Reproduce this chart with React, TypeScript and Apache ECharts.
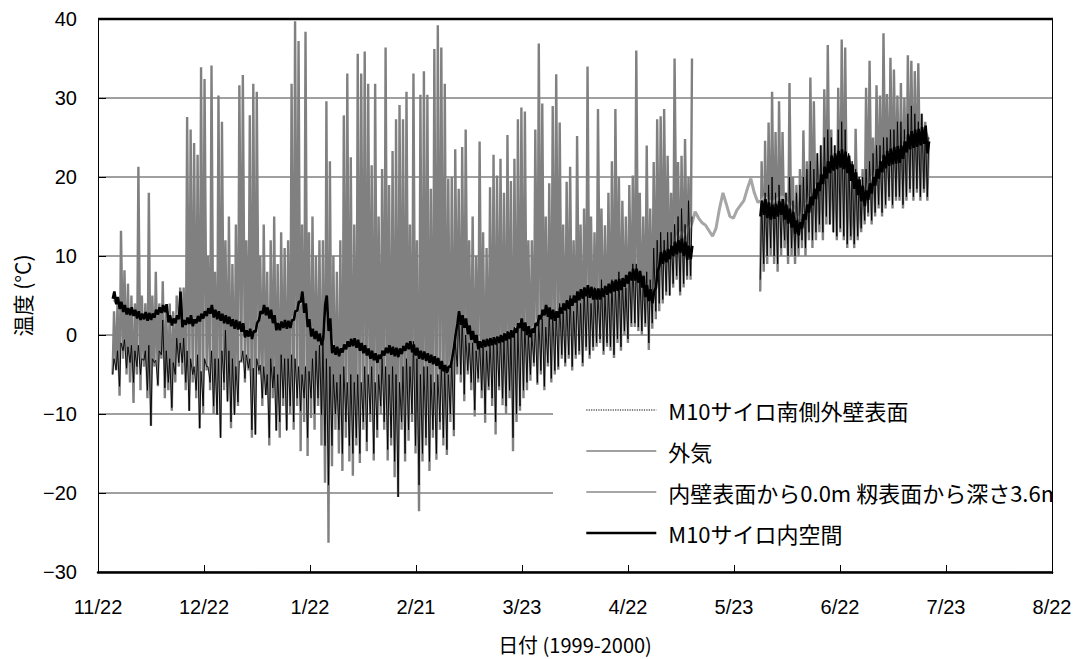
import React, { useEffect, useRef } from "react";
import * as echarts from "echarts";

// ---- axis / layout constants ----
const TOTAL_DAYS = 274; // 1999-11-22 .. 2000-08-22
const START_DAY = 4; // first day of data (days since 1999-11-22)
const tickLabels = ["11/22", "12/22", "1/22", "2/21", "3/23", "4/22", "5/23", "6/22", "7/23", "8/22"];
const yTicks = { min: -30, max: 40, step: 10 };

const NAME_SURFACE = "M10サイロ南側外壁表面";
const NAME_OUTSIDE = "外気";
const NAME_INNER = "内壁表面から0.0m 籾表面から深さ3.6m";
const NAME_SILO = "M10サイロ内空間";

const gap19 = [null, null, null, null, null, null, null, null, null, null, null, null, null, null, null, null, null, null, null];

// ---- daily maxima / minima (°C), one entry per day from START_DAY ----
// grey, strongly fluctuating trace
const outsideHi = [
  3, 4, 13.2, 8.2, 6.5, 5, 4, 21.3, 5, 4,
  18, 5, 8, 4, 6.8, 3, 4, 3, 5, 6,
  6, 27.6, 26, 24.3, 22.8, 33.9, 32.4, 10, 34.1, 8,
  30.3, 27, 12, 15, 9, 14, 31.6, 32.9, 12, 27.8,
  31.8, 30.8, 10, 14, 8, 12, 15, 9, 13, 11,
  12, 31.8, 39.7, 37.2, 14, 38.4, 13, 15, 10, 12,
  12, 29.6, 22, 10, 8, 12, 27.8, 33.1, 22.5, 14,
  35.6, 33.1, 35.9, 31.8, 21.5, 31.8, 15, 21, 36.4, 19,
  23.3, 27.3, 29.1, 27.3, 30.8, 14, 33.1, 12, 30.4, 33.4,
  30.4, 18.5, 36.2, 39.2, 36.4, 31.8, 19.8, 20, 23.5, 18.5,
  23.8, 26, 12, 15, 10, 24.5, 13, 11, 18.7, 22.8,
  20.2, 22.3, 18, 25.3, 19.5, 22.3, 27.3, 28.8, 28.3, 12,
  12, 26, 36.9, 29.3, 15, 19.2, 29, 33, 26.9, 14,
  19.4, 21.3, 12, 25.2, 14, 16, 34, 15, 13, 28.6,
  16, 13.9, 18, 22, 28.6, 20, 17, 15, 19, 20.2,
  36, 18, 15, 24, 16, 21.9, 27.3, 27.7, 28.6, 22.7,
  18, 35, 21.9, 22.7, 24.8, 20, 35,
  ...gap19,
  22, 24.6, 26.9, 30.8, 25.7, 29.6, 25.7, 18, 31.9, 20,
  19, 21, 25.9, 22, 32.6, 29.6, 23, 24, 31.1, 36.7,
  26, 24, 31.3, 37.4, 36.4, 22, 20, 26.1, 19, 21,
  31.3, 34.7, 25, 31.6, 30.3, 38.2, 30.5, 35.1, 33.6, 30.3,
  31.9, 30, 35.4, 34.7, 33.4, 34.4, 28, 27, 24,
];
const outsideLo = [
  -5, -4.5, -7.7, -3, -5, -6, -8.6, -5, -7, -4,
  -8, -11.5, -4, -6.5, -3, -8, -7, -9.6, -6, -4,
  -5, -7, -9.6, -6, -8, -11.8, -10, -4.5, -7, -10,
  -10, -13, -7, -8.4, -11.8, -10, -9, -3.5, -6, -4.5,
  -13, -12.6, -5, -9, -7.6, -14, -8, -12.1, -13, -9,
  -12, -10, -12, -9, -14.7, -11, -15.3, -10.5, -12, -9,
  -14, -18.7, -26.3, -16.6, -12, -15, -17.2, -13, -16, -17.8,
  -14, -16.2, -12, -14.7, -11, -15.9, -13, -10, -12, -15.9,
  -14, -18, -20.5, -12, -16, -13.4, -11, -15, -22.3, -16,
  -14, -17.2, -13, -15.8, -12, -14, -15.2, -11, -12.8, -5,
  -6, -8.4, -5, -7, -10.3, -6, -8, -11.1, -7, -9,
  -12.6, -7, -8.9, -10, -8, -14.7, -11, -9.6, -8, -7,
  -5.8, -4, -6.3, -5, -7, -4, -6, -5, -4.4, -3,
  -4, -3, -4.5, -3, -2.5, -4, -2, -3, -2, -1.5,
  -1, -2.5, -1.5, -2, -2.9, -1, -2, 0, -1, 1,
  1, 0.5, 0, 1, -1.9, 0.8, 2, 3, 4, 5,
  5, 6, 7, 5, 6, 7, 7,
  ...gap19,
  5.5, 8, 9, 10, 9, 8, 10, 11, 9, 10,
  9, 10, 11, 10, 12, 11, 12, 13, 12, 14,
  14, 13, 12, 13, 12, 11, 12, 11, 12, 13,
  14, 15, 14, 15, 16, 15, 16, 17, 16, 17,
  17, 16, 17, 18, 17, 18, 17, 18, 17,
];
// thin black trace
const surfaceHi = [
  -3, -2, -1, -0.6, -1.5, -1.3, -2, -1.3, -3, -2,
  -1.3, -3, -3.2, -2, 1.9, -2, -3, -3.5, -0.4, -1,
  -0.4, -2, -3, -4, -2.5, -4.6, -3, -4, -2, -3,
  -3, -2, 0.6, -2, -3, -4, -3.3, -2, -2.5, -3,
  -4.2, -3, -3.8, -4, -5, -3, -4, -5, -2.5, -3,
  -3, -2.5, -3, -4, -5, -4, -4.6, -3, -2, -1.3,
  -1, -3, -4, -5, -6, -5, -4, -6, -5, -6,
  -5, -6, -4, -5, -4, -6, -5, -3, -4, -5,
  -4, -5, -6, -4, -3, -4, -0.8, -3, -5, -4,
  -4, -5, -6, -5, -4, -4, -5, -3, -1, 3,
  2, 0, -1, -1, -2, -1, -1.5, -2, -1, -0.5,
  -1, 0, -0.5, 0.5, 0, 1, 1, 2, 1.5, 0,
  0, 1, 2, 2, 1, 3, 3, 2.5, 4, 3,
  4, 5, 3, 5, 4, 6, 5, 4, 6, 5,
  7, 5, 6, 7, 6, 8, 7, 6, 8, 9,
  9, 8, 7, 8, 7, 11, 12, 13, 12, 13,
  13, 14, 15, 16, 14, 17, 15,
  ...gap19,
  17, 18, 19, 20, 18, 19, 17, 18, 20, 17,
  18, 19, 20, 21, 22, 21, 23, 24, 25, 26,
  25, 24, 26, 27, 26, 23, 22, 21, 20, 20,
  21, 22, 23, 24, 24, 25, 25, 26, 26, 27,
  27, 26, 28, 29, 28, 27, 28, 26, 25,
];
const surfaceLo = [
  -5, -4.4, -6.5, -2, -4.2, -3.5, -6, -4, -5, -3.2,
  -7, -11.5, -3.5, -6.3, -2.5, -6.7, -6, -9.2, -5, -3.5,
  -3.5, -6, -9.6, -5, -7, -11.8, -9, -4, -6, -9,
  -10.1, -13, -6, -8.4, -11, -10.1, -8.5, -3.3, -5.5, -4.2,
  -12, -12.6, -4.5, -8, -7.6, -13, -6.7, -12.1, -11, -8,
  -12.1, -9, -11, -8, -9.6, -8, -13, -8, -10, -8,
  -10.1, -14, -19, -14, -10, -12, -15, -11, -14, -15,
  -13, -15, -11, -13.5, -10, -15, -12, -9, -11, -14.5,
  -13, -16, -20.5, -11, -15, -12, -10, -14, -19, -15,
  -13, -16, -12, -15, -11, -13, -14.5, -10, -12, -4,
  -5, -7.5, -4.5, -6, -9.5, -5.5, -7, -10, -6.5, -8,
  -11, -6.5, -8, -9, -7, -13, -10, -9, -7, -6,
  -5, -3.5, -6, -4.5, -6.5, -3.5, -5.5, -4.5, -4, -2.5,
  -3.5, -2.5, -4, -2.5, -2, -3.5, -1.5, -2.5, -1.5, -1,
  -0.5, -2, -1, -1.5, -2.5, -0.5, -1.5, 0.5, -0.5, 1.5,
  1.5, 1, 0.5, 1.5, -1, 1.5, 3, 4, 4.5, 5.5,
  5, 6.5, 7.5, 5.5, 6.5, 7.5, 7.5,
  ...gap19,
  7, 9, 10, 11, 10, 9, 11, 12, 10, 11,
  10, 11, 12, 11, 13, 12, 13, 14, 13, 15,
  14, 13, 12.5, 13.5, 12.5, 11.5, 12.5, 11.5, 12.5, 13.5,
  14.5, 15.5, 14.5, 15.5, 16.5, 15.5, 16.5, 17.5, 16.5, 17.5,
  17.5, 16.5, 17.5, 18.5, 17.5, 18.5, 17.5, 18.5, 17.5,
];
// thick black trace (silo air space): daily afternoon high / morning low
const siloAirHi = [
  5.5, 4.8, 4.2, 3.8, 3.4, 3.5, 3.2, 3.0, 2.7, 2.9,
  2.8, 2.7, 3.2, 3.5, 3.8, 3.9, 2.5, 2.1, 2.5, 5.5,
  1.9, 2.2, 2.5, 2.0, 2.4, 2.7, 3.0, 3.4, 3.8, 3.2,
  3.0, 2.7, 2.5, 2.3, 2.0, 1.9, 1.7, 1.5, 0.6, 0.8,
  0.5, 1.5, 3.0, 3.8, 3.5, 3.2, 2.5, 1.5, 1.7, 1.9,
  1.8, 1.9, 3.0, 4.2, 5.5, 4.0, 2.0, 0.8, 0.5, 0.2,
  -0.4, 5.0, 2.1, -1.3, -1.5, -1.7, -1.2, -0.8, -0.5, -0.4,
  -0.6, -1.0, -1.3, -1.7, -2.0, -2.3, -2.5, -2.0, -1.6, -1.3,
  -1.5, -1.6, -1.7, -1.4, -1.0, -0.8, -1.2, -1.6, -2.0, -2.1,
  -2.3, -2.5, -2.7, -2.9, -3.3, -3.8, -4.0, -3.0, 0.0, 3.0,
  2.5, 2.1, 1.2, 0.5, 0, -0.8, -0.6, -0.5, -0.4, -0.3,
  -0.2, 0, 0.2, 0.4, 0.6, 0.8, 1.5, 2.1, 1.6, 1.1,
  0.8, 1.5, 2.5, 3.2, 3.8, 3.5, 3.2, 3.0, 3.5, 4.0,
  4.4, 4.6, 5.0, 5.5, 5.8, 6.0, 6.3, 6.1, 5.9, 5.9,
  5.9, 6.2, 6.5, 6.8, 7.0, 7.1, 7.2, 7.6, 8.0, 8.4,
  8.4, 8.1, 7.5, 6.3, 5.8, 5.5, 8.0, 10.5, 10.7, 10.9,
  11.3, 11.8, 12.0, 12.2, 11.8, 11.3, 11.3,
  ...gap19,
  17.0, 17.2, 16.8, 16.5, 16.6, 16.9, 17.2, 16.5, 16.0, 15.6,
  14.5, 14.3, 15.3, 16.5, 17.5, 18.5, 19.3, 20.3, 21.3, 22,
  22.7, 23, 23.3, 23.5, 23.2, 22.7, 21.6, 20.6, 19.7, 18.9,
  18.3, 19.2, 20, 21, 22, 22.8, 23.3, 23.6, 23.8, 23.9,
  24, 24.5, 25.4, 25.8, 26, 26.1, 26.3, 26.5, 24.5,
];
const siloAirLo = [
  4.6, 3.9, 3.3, 2.9, 2.6, 2.5, 2.4, 2.1, 1.9, 2.0,
  1.8, 1.9, 2.2, 2.6, 2.8, 2.9, 1.6, 1.2, 1.5, 2.0,
  1.0, 1.3, 1.4, 1.1, 1.5, 1.7, 2.1, 2.4, 2.7, 2.2,
  2.0, 1.8, 1.5, 1.4, 1.1, 0.8, 0.7, 0.4, -0.3, -0.2,
  -0.5, 0.4, 1.9, 2.7, 2.5, 2.1, 1.5, 0.6, 0.6, 0.9,
  0.8, 0.9, 1.9, 3.1, 4.2, 2.8, 1.0, -0.2, -0.5, -0.8,
  -1.3, 3.8, 0.5, -2.3, -2.5, -2.7, -2.2, -1.8, -1.5, -1.4,
  -1.6, -2.0, -2.3, -2.6, -3.0, -3.2, -3.5, -3.0, -2.6, -2.3,
  -2.5, -2.7, -2.8, -2.4, -2.0, -1.8, -2.2, -2.6, -3.0, -3.1,
  -3.3, -3.5, -3.7, -3.9, -4.3, -4.6, -4.8, -4.0, -1.5, 1.5,
  1.3, 0.9, 0.1, -0.6, -1.0, -1.8, -1.6, -1.5, -1.4, -1.3,
  -1.2, -1.0, -0.9, -0.7, -0.5, -0.3, 0.3, 0.9, 0.5, 0.0,
  -0.3, 0.3, 1.2, 2.0, 2.5, 2.3, 2.0, 1.8, 2.2, 2.7,
  3.1, 3.3, 3.7, 4.1, 4.4, 4.6, 4.9, 4.7, 4.5, 4.5,
  4.5, 4.8, 5.1, 5.3, 5.5, 5.6, 5.7, 6.1, 6.5, 6.9,
  6.9, 6.6, 6.0, 4.8, 4.3, 4.0, 6.0, 8.8, 9.0, 9.2,
  9.6, 10.0, 10.2, 10.4, 10.0, 9.5, 9.6,
  ...gap19,
  15.0, 15.2, 14.8, 14.6, 14.7, 15.0, 15.2, 14.6, 14.1, 13.6,
  12.8, 12.6, 13.5, 14.6, 15.5, 16.4, 17.2, 18.2, 19.1, 19.8,
  20.5, 20.8, 21.0, 21.2, 21.0, 20.5, 19.5, 18.5, 17.7, 16.9,
  16.3, 17.1, 17.9, 18.9, 19.8, 20.6, 21.1, 21.4, 21.6, 21.7,
  21.8, 22.3, 23.1, 23.5, 23.7, 23.8, 24.0, 24.2, 23.0,
];
// daily values, light grey trace (inner wall)
const innerWall = [
  4.5, 4, 3.5, 3.2, 3, 3, 2.8, 2.5, 2.3, 2.5,
  2.3, 2.2, 2.6, 3, 3.2, 3.3, 2.2, 1.8, 2, 3.5,
  1.7, 1.9, 2.1, 1.8, 2.1, 2.3, 2.6, 2.9, 3.2, 2.7,
  2.6, 2.3, 2.1, 1.9, 1.7, 1.6, 1.4, 1.1, 0.4, 0.5,
  0.3, 1.0, 2.5, 3.2, 3.0, 2.8, 2.2, 1.3, 1.4, 1.6,
  1.5, 1.6, 2.5, 3.5, 4.5, 3.4, 1.7, 0.6, 0.3, 0,
  -0.6, 3.5, 1.5, -1.5, -1.7, -1.9, -1.5, -1.1, -0.8, -0.7,
  -0.9, -1.3, -1.6, -2.0, -2.3, -2.6, -2.8, -2.3, -1.9, -1.6,
  -1.8, -1.9, -2.0, -1.7, -1.3, -1.1, -1.5, -1.9, -2.3, -2.4,
  -2.6, -2.8, -3.0, -3.2, -3.6, -4.1, -4.3, -3.3, -0.5, 2.0,
  1.8, 1.6, 0.8, 0.2, -0.3, -1.0, -0.8, -0.7, -0.6, -0.5,
  -0.4, -0.2, 0, 0.2, 0.4, 0.6, 1.2, 1.8, 1.4, 0.9,
  0.6, 1.2, 2.1, 2.8, 3.3, 3.1, 2.8, 2.7, 3.1, 3.5,
  3.9, 4.1, 4.5, 5.0, 5.3, 5.5, 5.8, 5.6, 5.4, 5.4,
  5.4, 5.7, 6.0, 6.3, 6.5, 6.6, 6.7, 7.1, 7.5, 7.9,
  7.9, 7.6, 7.0, 5.8, 5.3, 5.0, 7.5, 9.8, 10.2, 10.4,
  11, 11.5, 12.5, 13, 12.5, 13.5, 14,
  15.6, 14.8, 14.2, 13.9, 13.2, 12.5, 13.5, 16.0, 18.0, 16.5,
  15.0, 14.8, 15.8, 16.4, 17.0, 18.5, 19.8, 18.0, 16.8,
  17, 17.5, 17, 16.8, 17, 17.3, 17.5, 16.9, 16.4, 16,
  15, 14.8, 15.6, 16.6, 17.5, 18.3, 19, 19.8, 20.6, 21.2,
  22, 22.4, 22.7, 23, 22.8, 22.3, 21.3, 20.4, 19.6, 18.9,
  18.5, 19.2, 20, 20.8, 21.6, 22.3, 22.8, 23.1, 23.3, 23.5,
  23.6, 24, 24.8, 25.2, 25.4, 25.5, 25.7, 25.9, 24.8,
];

// ---- helpers turning daily readings into [day, value] pairs ----
type V = number | null;
const val = (v: V) => (v === null || v === undefined ? "-" : v);
function dayMinMax(lo: V[], hi: V[], tLo: number, tHi: number) {
  const out: any[] = [];
  lo.forEach((_, i) => {
    const d = START_DAY + i;
    out.push([d + tLo, val(lo[i])]);
    out.push([d + tHi, val(hi[i])]);
  });
  return out;
}
function dayMean(vals: V[]) {
  return vals.map((v, i) => [START_DAY + i + 0.5, val(v)]);
}

const JP = "'Noto Sans CJK JP', 'Noto Sans', sans-serif";
const NUM = "'Liberation Sans', Arial, sans-serif";

const W = 1080;
const H = 659;
const GRID = { left: 98, top: 19, right: 28, bottom: 85 };

export default function App() {
  const ref = useRef<HTMLDivElement>(null);
  useEffect(() => {
    if (!ref.current) return;
    const chart = echarts.init(ref.current, null, { renderer: "svg" });
    const tickDays = tickLabels.map((_, i) => (i * TOTAL_DAYS) / (tickLabels.length - 1));
    const plotRight = W - GRID.right;
    const plotBottom = H - GRID.bottom;
    const hidden = { color: "rgba(0,0,0,0)", borderColor: "rgba(0,0,0,0)", borderWidth: 0 };

    chart.setOption({
      animation: false,
      backgroundColor: "#fff",
      grid: { left: GRID.left, top: GRID.top, right: GRID.right, bottom: GRID.bottom, containLabel: false },
      xAxis: {
        type: "value",
        min: 0,
        max: TOTAL_DAYS,
        axisLine: { onZero: false, lineStyle: { color: "#000", width: 2.5 } },
        axisTick: { inside: true, length: 7, lineStyle: { color: "#000", width: 1 }, customValues: tickDays },
        axisLabel: {
          customValues: tickDays,
          formatter: (v: number) => tickLabels[Math.round((v * (tickLabels.length - 1)) / TOTAL_DAYS)],
          margin: 25,
          color: "#000",
          fontFamily: NUM,
          fontSize: 20,
        },
        splitLine: { show: false },
        name: "日付 (1999-2000)",
        nameLocation: "middle",
        nameGap: 62,
        nameTextStyle: { color: "#000", fontFamily: JP, fontSize: 20 },
      },
      yAxis: {
        type: "value",
        min: yTicks.min,
        max: yTicks.max,
        interval: yTicks.step,
        axisLine: { show: true, onZero: false, lineStyle: { color: "#000", width: 1 } },
        axisTick: { show: true, inside: true, length: 8, lineStyle: { color: "#000", width: 1 } },
        axisLabel: {
          formatter: (v: number) => (v < 0 ? "\u2212" + Math.abs(v) : String(v)),
          margin: 21,
          color: "#000",
          fontFamily: NUM,
          fontSize: 20,
        },
        splitLine: { show: true, lineStyle: { color: "#808080", width: 1.5 } },
        name: "温度 (°C)",
        nameLocation: "middle",
        nameRotate: 90,
        nameGap: 64,
        nameTextStyle: { color: "#000", fontFamily: JP, fontSize: 21 },
      },
      legend: {
        orient: "vertical",
        left: 553,
        top: 381,
        backgroundColor: "#fff",
        padding: [18, 60, 12, 32],
        itemWidth: 70,
        itemHeight: 14,
        itemGap: 19,
        selectedMode: false,
        z: 20,
        itemStyle: hidden,
        textStyle: { color: "#000", fontFamily: JP, fontSize: 22, padding: [0, 0, 0, 7] },
        data: [
          { name: NAME_SURFACE, itemStyle: hidden, lineStyle: { type: "dotted", width: 1.2, color: "#000" } },
          { name: NAME_OUTSIDE, itemStyle: hidden, lineStyle: { width: 1.6, color: "#808080" } },
          { name: NAME_INNER, itemStyle: hidden, lineStyle: { width: 2, color: "#a6a6a6" } },
          { name: NAME_SILO, itemStyle: hidden, lineStyle: { width: 2.6, color: "#000" } },
        ],
      },
      graphic: [
        { type: "rect", z: 50, shape: { x: plotRight + 1, y: 370, width: W - plotRight, height: plotBottom - 370 - 5 }, style: { fill: "#fff" } },
        { type: "line", z: 60, shape: { x1: plotRight + 0.5, y1: GRID.top, x2: plotRight + 0.5, y2: plotBottom }, style: { stroke: "#000", lineWidth: 1 } },
        { type: "line", z: 60, shape: { x1: GRID.left, y1: GRID.top, x2: plotRight + 1, y2: GRID.top }, style: { stroke: "#000", lineWidth: 2.5 } },
      ],
      series: [
        {
          name: NAME_OUTSIDE,
          type: "line",
          data: dayMinMax(outsideLo, outsideHi, 0.2, 0.6),
          symbol: "none",
          showSymbol: false,
          silent: true,
          lineStyle: { color: "#808080", width: 2.4 },
          itemStyle: { color: "#808080" },
          z: 2,
        },
        {
          name: NAME_INNER,
          type: "line",
          data: dayMean(innerWall),
          symbol: "none",
          showSymbol: false,
          silent: true,
          lineStyle: { color: "#a6a6a6", width: 3 },
          itemStyle: { color: "#a6a6a6" },
          z: 3,
        },
        {
          name: NAME_SURFACE,
          type: "line",
          data: dayMinMax(surfaceLo, surfaceHi, 0.2, 0.6),
          symbol: "none",
          showSymbol: false,
          silent: true,
          lineStyle: { color: "#000", width: 0.9 },
          itemStyle: { color: "#000" },
          z: 4,
        },
        {
          name: NAME_SILO,
          type: "line",
          data: dayMinMax(siloAirLo, siloAirHi, 0.25, 0.7),
          symbol: "none",
          showSymbol: false,
          silent: true,
          lineStyle: { color: "#000", width: 2.6 },
          itemStyle: { color: "#000" },
          z: 5,
        },
      ],
    });
    return () => chart.dispose();
  }, []);
  return <div ref={ref} style={{ position: "fixed", left: 0, top: 0, width: W, height: H, background: "#fff" }} />;
}
